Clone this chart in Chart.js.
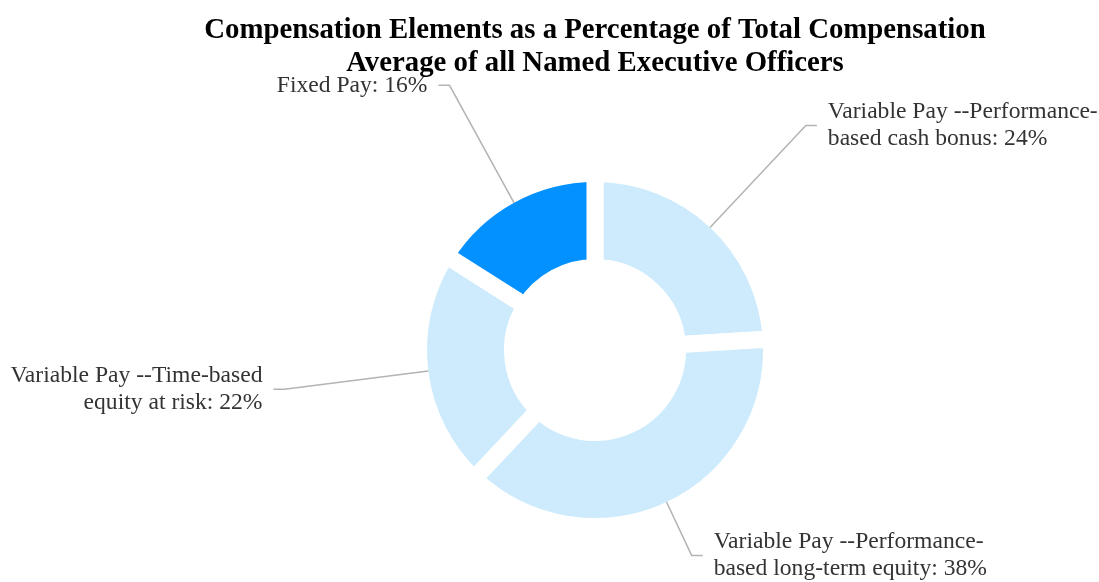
<!DOCTYPE html>
<html>
<head>
<meta charset="utf-8">
<script src="https://cdn.jsdelivr.net/npm/chart.js@4.4.1/dist/chart.umd.min.js"></script>
<style>
  html, body { margin: 0; padding: 0; background: #ffffff; }
  #wrap { width: 1099px; height: 582px; position: relative; }
  canvas { display: block; }
</style>
</head>
<body>
<div id="wrap"><canvas id="chart" width="1099" height="582"></canvas></div>
<script>
// ---- data ----
const categories = [
  'Variable Pay --Performance-based cash bonus',
  'Variable Pay --Performance-based long-term equity',
  'Variable Pay --Time-based equity at risk',
  'Fixed Pay'
];
const values = [24, 38, 22, 16];
const valueSuffix = '%';
const titleLines = [
  'Compensation Elements as a Percentage of Total Compensation',
  'Average of all Named Executive Officers'
];

// ---- styling / layout ----
const sliceColors = ['#cdebfc', '#cdebfc', '#cdebfc', '#0291ff'];
const GAP = 17;              // white gap between slices
const OUTER_VISIBLE = 168;   // visible outer radius
const INNER_VISIBLE = 91;    // visible inner radius
const OUTER_R = OUTER_VISIBLE + GAP / 2;
const INNER_R = INNER_VISIBLE - GAP / 2;
const labelDistances = [308, 227, 313, 302]; // radial end of leader lines

function wrapText(ctx, text, maxW) {
  const tokens = text.match(/\s+|[^\s-]*-+|[^\s-]+/g) || [];
  const lines = [];
  let cur = '';
  for (const t of tokens) {
    if (/^\s+$/.test(t)) { if (cur) cur += t; continue; }
    const test = cur + t;
    if (cur.trim() && ctx.measureText(test.trimEnd()).width > maxW) {
      lines.push(cur.trimEnd());
      cur = t;
    } else {
      cur = test;
    }
  }
  if (cur.trim()) lines.push(cur.trimEnd());
  return lines;
}

const pieLabels = {
  id: 'pieLabels',
  afterDatasetsDraw(chart, args, opts) {
    const meta = chart.getDatasetMeta(0);
    const ctx = chart.ctx;
    ctx.save();
    ctx.font = opts.font;
    meta.data.forEach((arc, i) => {
      const p = arc.getProps(['x', 'y', 'startAngle', 'endAngle', 'outerRadius'], true);
      const mid = (p.startAngle + p.endAngle) / 2;
      const r0 = p.outerRadius - opts.gap / 2;
      const r1 = opts.distances[i];
      const cos = Math.cos(mid), sin = Math.sin(mid);
      const sx = p.x + cos * r0, sy = p.y + sin * r0;
      const ex = p.x + cos * r1, ey = p.y + sin * r1;
      const right = cos >= 0;
      const hx = ex + (right ? 1 : -1) * opts.elbow;
      ctx.beginPath();
      ctx.strokeStyle = opts.lineColor;
      ctx.lineWidth = opts.lineWidth;
      ctx.moveTo(sx, sy);
      ctx.lineTo(ex, ey);
      ctx.lineTo(hx, ey);
      ctx.stroke();

      const text = categories[i] + ': ' + values[i] + valueSuffix;
      const lines = wrapText(ctx, text, opts.maxWidth);
      ctx.fillStyle = opts.color;
      ctx.textBaseline = 'middle';
      ctx.textAlign = right ? 'left' : 'right';
      const tx = hx + (right ? 1 : -1) * opts.textGap;
      const y0 = ey - (lines.length - 1) * opts.lineHeight / 2;
      lines.forEach((ln, k) => ctx.fillText(ln, tx, y0 + k * opts.lineHeight));
    });
    ctx.restore();
  }
};

new Chart(document.getElementById('chart'), {
  type: 'doughnut',
  data: {
    labels: categories,
    datasets: [{
      data: values,
      backgroundColor: sliceColors,
      borderColor: '#ffffff',
      borderWidth: GAP,
      hoverOffset: 0
    }]
  },
  options: {
    responsive: false,
    animation: false,
    events: [],
    devicePixelRatio: 1,
    radius: OUTER_R,
    cutout: (INNER_R / OUTER_R * 100) + '%',
    layout: { padding: { left: 91, right: 0, top: 0, bottom: 0 } },
    plugins: {
      legend: { display: false },
      tooltip: { enabled: false },
      title: {
        display: true,
        text: titleLines,
        color: '#000000',
        font: { family: '"Liberation Serif", "Times New Roman", serif', size: 28.8, weight: 'bold', lineHeight: 33 / 28.8 },
        padding: { top: 14, bottom: 38 }
      },
      pieLabels: {
        font: '23.6px "Liberation Serif", "Times New Roman", serif',
        color: '#333333',
        lineColor: '#b3b3b3',
        lineWidth: 1.5,
        gap: GAP,
        distances: labelDistances,
        elbow: 11,
        textGap: 11,
        lineHeight: 27,
        maxWidth: 290
      }
    }
  },
  plugins: [pieLabels]
});
</script>
</body>
</html>
